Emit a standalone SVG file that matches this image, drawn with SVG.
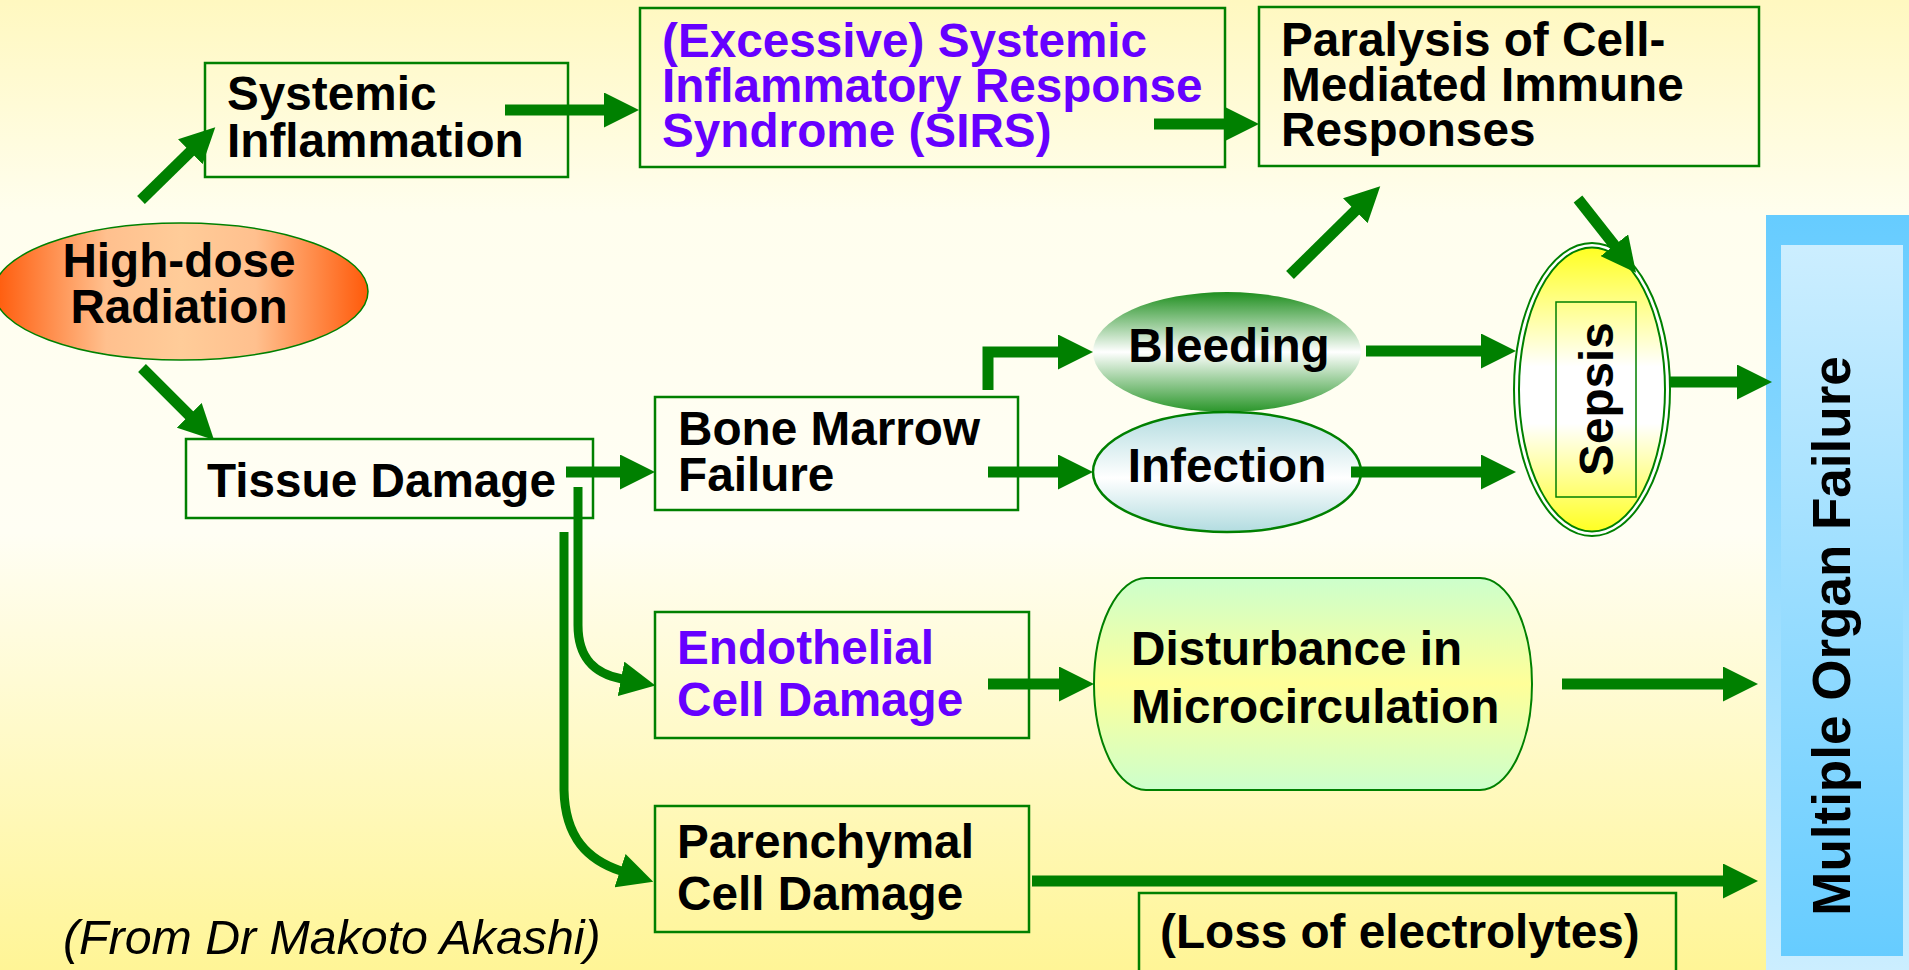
<svg xmlns="http://www.w3.org/2000/svg" width="1909" height="970" viewBox="0 0 1909 970">
<defs>
<linearGradient id="bg" x1="0" y1="0" x2="0" y2="1">
<stop offset="0" stop-color="#FFF8C0"/>
<stop offset="0.22" stop-color="#FFFEEE"/>
<stop offset="0.55" stop-color="#FFFEF4"/>
<stop offset="1" stop-color="#FFF596"/>
</linearGradient>
<linearGradient id="gHigh" x1="0" y1="0" x2="1" y2="0">
<stop offset="0" stop-color="#FF5A0A"/>
<stop offset="0.3" stop-color="#FFC08E"/>
<stop offset="0.5" stop-color="#FFCC99"/>
<stop offset="0.7" stop-color="#FFC08E"/>
<stop offset="1" stop-color="#FF5A0A"/>
</linearGradient>
<linearGradient id="gBleed" x1="0" y1="0" x2="0" y2="1">
<stop offset="0" stop-color="#1F8F1F"/>
<stop offset="0.5" stop-color="#FFFFFF"/>
<stop offset="1" stop-color="#2A962A"/>
</linearGradient>
<linearGradient id="gInf" x1="0" y1="0" x2="0" y2="1">
<stop offset="0" stop-color="#B2DCE0"/>
<stop offset="0.55" stop-color="#FFFFFF"/>
<stop offset="1" stop-color="#B2DCE0"/>
</linearGradient>
<linearGradient id="gSep" x1="0" y1="0" x2="0" y2="1">
<stop offset="0" stop-color="#FFFF22"/>
<stop offset="0.42" stop-color="#FFFFFF"/>
<stop offset="0.62" stop-color="#FFFFFF"/>
<stop offset="1" stop-color="#FFFF22"/>
</linearGradient>
<linearGradient id="gDist" x1="0" y1="0" x2="0" y2="1">
<stop offset="0" stop-color="#CCFFCC"/>
<stop offset="0.5" stop-color="#FFFF99"/>
<stop offset="1" stop-color="#CCFFCC"/>
</linearGradient>
<linearGradient id="gMofOut" x1="0" y1="0" x2="0" y2="1">
<stop offset="0" stop-color="#66CCFF"/>
<stop offset="1" stop-color="#CCEEFF"/>
</linearGradient>
<linearGradient id="gMofIn" x1="0" y1="0" x2="0" y2="1">
<stop offset="0" stop-color="#CCEEFF"/>
<stop offset="1" stop-color="#66CCFF"/>
</linearGradient>
<marker id="ah" markerUnits="userSpaceOnUse" viewBox="0 0 35 35" markerWidth="35" markerHeight="35" refX="1" refY="17.5" orient="auto">
<path d="M0,0 L35,17.5 L0,35 z" fill="#008000"/>
</marker>
</defs>
<style>
.t{font-family:"Liberation Sans",Arial,sans-serif;font-weight:bold;font-size:47.7px;fill:#000}
.p{fill:#6600FF}
.box{fill:none;stroke:#008000;stroke-width:2.5}
.c{fill:none;stroke:#008000;stroke-width:11;marker-end:url(#ah)}
.cv{fill:none;stroke:#008000;stroke-width:9;marker-end:url(#ah)}
</style>
<rect x="0" y="0" width="1909" height="970" fill="url(#bg)"/>

<g id="highdose">
<ellipse cx="181" cy="291.5" rx="187" ry="68.5" fill="url(#gHigh)" stroke="#008000" stroke-width="1.5"/>
<text class="t" x="179" y="277" text-anchor="middle">High-dose</text>
<text class="t" x="179" y="323" text-anchor="middle">Radiation</text>
</g>

<g id="systemic">
<rect class="box" x="205" y="63" width="363" height="114"/>
<text class="t" x="227" y="110">Systemic</text>
<text class="t" x="227" y="157">Inflammation</text>
</g>

<g id="sirs">
<rect class="box" x="640" y="8" width="585" height="159"/>
<text class="t p" x="662" y="57">(Excessive) Systemic</text>
<text class="t p" x="662" y="102">Inflammatory Response</text>
<text class="t p" x="662" y="147">Syndrome (SIRS)</text>
</g>

<g id="paralysis">
<rect class="box" x="1259" y="7" width="500" height="159"/>
<text class="t" x="1281" y="56">Paralysis of Cell-</text>
<text class="t" x="1281" y="101">Mediated Immune</text>
<text class="t" x="1281" y="146">Responses</text>
</g>

<g id="tissue">
<rect class="box" x="186" y="439" width="407" height="79"/>
<text class="t" x="207" y="497">Tissue Damage</text>
</g>

<g id="bonemarrow">
<rect class="box" x="655" y="397" width="363" height="113"/>
<text class="t" x="678" y="445">Bone Marrow</text>
<text class="t" x="678" y="491">Failure</text>
</g>

<g id="bleeding">
<ellipse cx="1227" cy="352" rx="134" ry="60" fill="url(#gBleed)"/>
<text class="t" x="1229" y="362" text-anchor="middle">Bleeding</text>
</g>

<g id="infection">
<ellipse cx="1227" cy="472" rx="134" ry="60" fill="url(#gInf)" stroke="#008000" stroke-width="2.5"/>
<text class="t" x="1227" y="482" text-anchor="middle">Infection</text>
</g>

<g id="sepsis">
<ellipse cx="1592" cy="389.5" rx="78" ry="146.5" fill="#FFFFFF" stroke="#008000" stroke-width="2"/>
<ellipse cx="1592" cy="389.5" rx="73" ry="142" fill="url(#gSep)" stroke="#008000" stroke-width="2"/>
<rect x="1556" y="302" width="80" height="195" fill="none" stroke="#008000" stroke-width="1.5"/>
<text class="t" transform="translate(1613,399) rotate(-90)" x="0" y="0" text-anchor="middle">Sepsis</text>
</g>

<g id="endothelial">
<rect class="box" x="655" y="612" width="374" height="126"/>
<text class="t p" x="677" y="664">Endothelial</text>
<text class="t p" x="677" y="716">Cell Damage</text>
</g>

<g id="disturbance">
<rect x="1094" y="578" width="438" height="212" rx="52" ry="106" fill="url(#gDist)" stroke="#008000" stroke-width="2"/>
<text class="t" x="1131" y="665">Disturbance in</text>
<text class="t" x="1131" y="723">Microcirculation</text>
</g>

<g id="parenchymal">
<rect class="box" x="655" y="806" width="374" height="126"/>
<text class="t" x="677" y="858">Parenchymal</text>
<text class="t" x="677" y="910">Cell Damage</text>
</g>

<g id="loss">
<rect class="box" x="1139" y="893" width="537" height="90"/>
<text class="t" x="1160" y="948">(Loss of electrolytes)</text>
</g>

<g id="mof">
<rect x="1766" y="215" width="150" height="760" fill="url(#gMofOut)"/>
<rect x="1781" y="245" width="122" height="711" fill="url(#gMofIn)"/>
<text class="t" style="font-size:53px" transform="translate(1850,636) rotate(-90)" x="0" y="0" text-anchor="middle">Multiple Organ Failure</text>
</g>

<g id="credit">
<text x="63" y="954" style="font-family:'Liberation Sans',Arial,sans-serif;font-style:italic;font-size:48.3px;fill:#000">(From Dr Makoto Akashi)</text>
</g>

<g id="connectors">
<line class="c" x1="141" y1="200" x2="191" y2="151"/>
<line class="c" x1="142" y1="368" x2="190" y2="416"/>
<line class="c" x1="505" y1="110" x2="605" y2="110"/>
<line class="c" x1="1154" y1="124" x2="1225" y2="124"/>
<line class="c" x1="566" y1="472" x2="621" y2="472"/>
<path class="c" style="stroke-linejoin:miter" d="M988,390 L988,352 L1059,352"/>
<line class="c" x1="988" y1="472" x2="1059" y2="472"/>
<line class="c" x1="1290" y1="275" x2="1356" y2="210"/>
<line class="c" x1="1578" y1="199" x2="1615" y2="246"/>
<line class="c" x1="1366" y1="351" x2="1482" y2="351"/>
<line class="c" x1="1351" y1="472" x2="1482" y2="472"/>
<line class="c" x1="1670" y1="382" x2="1738" y2="382"/>
<line class="c" x1="988" y1="684" x2="1060" y2="684"/>
<line class="c" x1="1562" y1="684" x2="1724" y2="684"/>
<line class="c" x1="1032" y1="881" x2="1724" y2="881"/>
<path class="cv" d="M578,487 L578,625 C578,660 596,674 622,679"/>
<path class="cv" d="M564,532 L564,790 C565,838 588,860 621,871"/>
</g>
</svg>
